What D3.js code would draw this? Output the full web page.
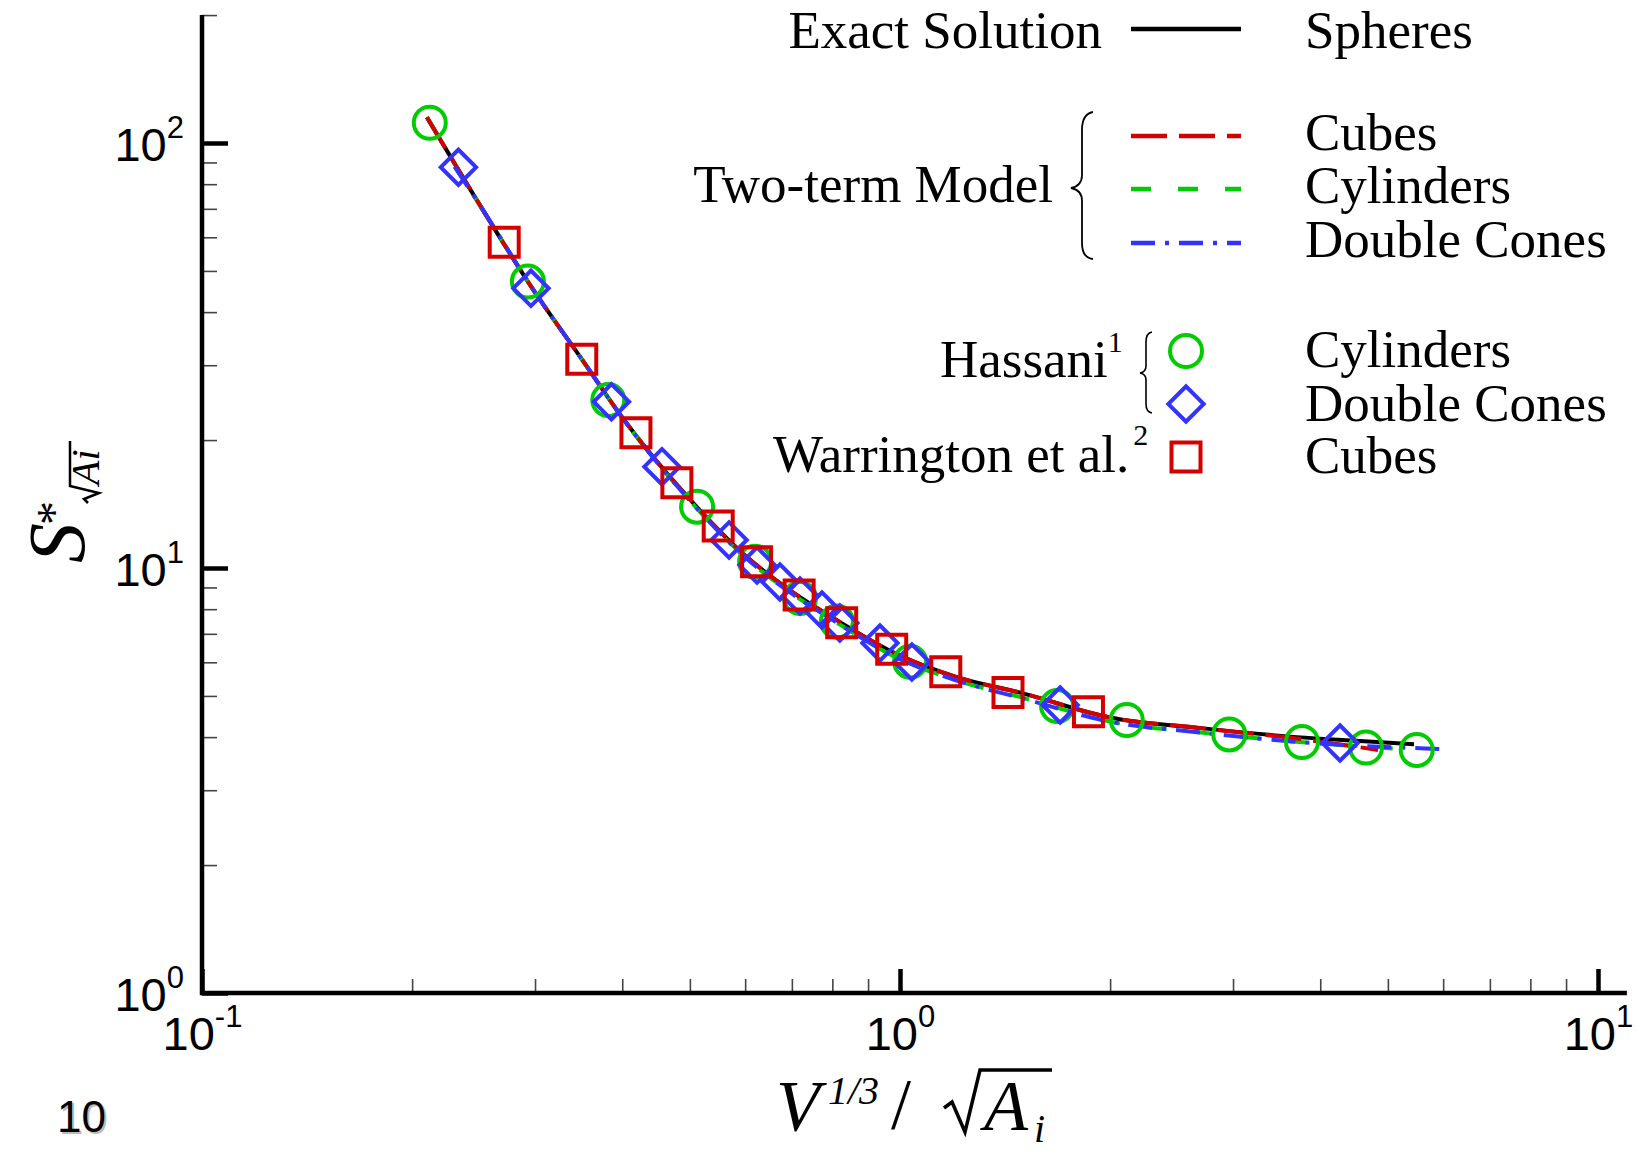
<!DOCTYPE html>
<html>
<head>
<meta charset="utf-8">
<script src="https://cdn.jsdelivr.net/npm/d3@7"></script>
<style>
body{margin:0;background:#fff;}
svg{display:block;}
</style>
</head>
<body>
<svg id="chart" width="1639" height="1152"></svg>
<script>
// tick values
var yMajorTicks = [1, 10, 100];
var yMinorTicks = [2,3,4,5,6,7,8,9,20,30,40,50,60,70,80,90,200];
var xMajorTicks = [0.1, 1, 10];
var xMinorTicks = [0.2,0.3,0.4,0.5,0.6,0.7,0.8,0.9,2,3,4,5,6,7,8,9];
var yTickExp = ["0", "1", "2"];
var xTickExp = ["-1", "0", "1"];

// exact solution, spheres
var exactX = [0.21,0.25,0.3,0.35,0.4,0.5,0.6,0.7,0.8,1.0,1.2,1.5,2.0,2.7,3.7,4.5,5.45];
var exactY = [115,71.5,44.5,31,22.6,14.5,10.7,8.8,7.65,6.22,5.55,5.07,4.45,4.2,4.0,3.92,3.85];
// two-term model
var cubesX = [0.21,0.25,0.3,0.35,0.4,0.5,0.6,0.7,0.8,1.0,1.2,1.5,2.0,2.7,3.7,4.3,4.84];
var cubesY = [115,71.5,44.5,31,22.6,14.5,10.7,8.8,7.65,6.22,5.55,5.07,4.45,4.2,3.97,3.84,3.73];
var cylX = [0.21,0.25,0.3,0.35,0.4,0.5,0.6,0.7,0.8,1.0,1.2,1.5,2.0,2.7,3.7,4.5,5.08];
var cylY = [115,71.5,44.5,31,22.6,14.4,10.6,8.7,7.55,6.1,5.45,4.95,4.35,4.1,3.9,3.81,3.76];
var conesX = [0.23,0.25,0.3,0.35,0.4,0.5,0.6,0.7,0.8,1.0,1.2,1.5,2.0,2.7,3.7,4.5,5.45,6.12];
var conesY = [88,71.5,44.5,31,22.6,14.4,10.6,8.7,7.55,6.1,5.45,4.93,4.35,4.1,3.9,3.82,3.77,3.74];

// Hassani cylinders (circles)
var hasCylX = [0.212,0.293,0.382,0.512,0.620,0.719,0.812,1.034,1.679,2.113,2.963,3.766,4.652,5.499];
var hasCylY = [111.6,47.2,24.85,13.94,10.35,8.50,7.48,6.02,4.735,4.389,4.058,3.896,3.781,3.731];
// Hassani double cones (diamonds)
var hasConX = [0.233,0.296,0.386,0.456,0.569,0.624,0.673,0.719,0.773,0.820,0.936,1.040,1.696,4.270];
var hasConY = [87.7,45.5,24.6,17.31,11.64,10.16,9.27,8.59,7.96,7.42,6.66,6.01,4.76,3.875];
// Warrington cubes (squares)
var warCubX = [0.271,0.350,0.4185,0.479,0.549,0.623,0.717,0.825,0.973,1.163,1.428,1.862];
var warCubY = [58.4,31.0,20.8,15.88,12.56,10.35,8.64,7.43,6.44,5.70,5.095,4.59];

var red = "#d40000", green = "#00cc00", blue = "#3333ff";

var svg = d3.select("#chart");

var x = d3.scaleLog().domain([0.1, 11]).range([202, 202 + 698*Math.log10(110)]);
var y = d3.scaleLog().domain([1, 200]).range([993, 993 - 425*Math.log10(200)]);

// axes
var drawAxes = function()
{
  var gyMin = svg.append("g").attr("transform", "translate(202,0)")
    .call(d3.axisLeft(y).tickValues(yMinorTicks).tickSize(-15).tickFormat(""));
  gyMin.selectAll("line").attr("stroke", "#444").attr("stroke-width", 1.6);
  gyMin.select(".domain").remove();

  var gxMin = svg.append("g").attr("transform", "translate(0,993)")
    .call(d3.axisBottom(x).tickValues(xMinorTicks).tickSize(-14).tickFormat(""));
  gxMin.selectAll("line").attr("stroke", "#444").attr("stroke-width", 1.6);
  gxMin.select(".domain").remove();

  var gy = svg.append("g").attr("transform", "translate(202,0)")
    .call(d3.axisLeft(y).tickValues(yMajorTicks).tickSize(-26).tickFormat(""));
  gy.selectAll("line").attr("stroke", "#000").attr("stroke-width", 4.5);
  gy.select(".domain").remove();
  gy.selectAll(".tick text").remove();
  gy.selectAll(".tick").append("text")
    .attr("x", -18).attr("y", 17.5)
    .attr("text-anchor", "end")
    .attr("font-family", "Liberation Sans, Arial, sans-serif")
    .attr("font-size", 47).attr("fill", "#000")
    .each(function(d, i){
      var t = d3.select(this);
      t.append("tspan").text("10");
      t.append("tspan").attr("font-size", 31).attr("dy", -23.5).text(yTickExp[i]);
    });

  var gx = svg.append("g").attr("transform", "translate(0,993)")
    .call(d3.axisBottom(x).tickValues(xMajorTicks).tickSize(-24).tickFormat(""));
  gx.selectAll("line").attr("stroke", "#000").attr("stroke-width", 4.5);
  gx.select(".domain").remove();
  gx.selectAll(".tick text").remove();
  gx.selectAll(".tick").append("text")
    .attr("x", 0).attr("y", 57)
    .attr("text-anchor", "middle")
    .attr("font-family", "Liberation Sans, Arial, sans-serif")
    .attr("font-size", 47).attr("fill", "#000")
    .each(function(d, i){
      var t = d3.select(this);
      t.append("tspan").text("10");
      t.append("tspan").attr("font-size", 31).attr("dy", -23).text(xTickExp[i]);
    });

  svg.append("line")
    .attr("x1", 202).attr("x2", 202)
    .attr("y1", y(200)).attr("y2", 995)
    .attr("stroke", "#000").attr("stroke-width", 4.5);
  svg.append("line")
    .attr("x1", 200).attr("x2", x(11))
    .attr("y1", 993).attr("y2", 993)
    .attr("stroke", "#000").attr("stroke-width", 4.5);
}

var drawLines = function()
{
  var line = d3.line()
    .x(function(d){return x(d[0]);})
    .y(function(d){return y(d[1]);})
    .curve(d3.curveMonotoneX);

  var series = [
    {xs: exactX, ys: exactY, color: "#000", dash: null},
    {xs: cylX, ys: cylY, color: green, dash: "20,27"},
    {xs: cubesX, ys: cubesY, color: red, dash: "36,12"},
    {xs: conesX, ys: conesY, color: blue, dash: "24,10,4,10"}
  ];
  series.forEach(function(s){
    svg.append("path")
      .datum(d3.zip(s.xs, s.ys))
      .attr("d", line)
      .attr("fill", "none")
      .attr("stroke", s.color)
      .attr("stroke-width", 4)
      .attr("stroke-dasharray", s.dash);
  });
}

var circleSym = d3.symbol().type(d3.symbolCircle).size(Math.PI*16*16);
var squareSym = d3.symbol().type(d3.symbolSquare).size(29*29);
var diamondSym = d3.symbol().type(d3.symbolSquare).size(25*25);

var drawMarkers = function()
{
  svg.selectAll(".cyl")
    .data(d3.zip(hasCylX, hasCylY))
    .enter().append("path")
    .attr("class", "cyl")
    .attr("d", circleSym)
    .attr("transform", function(d){return "translate(" + x(d[0]) + "," + y(d[1]) + ")";})
    .attr("fill", "none").attr("stroke", green).attr("stroke-width", 4);

  svg.selectAll(".con")
    .data(d3.zip(hasConX, hasConY))
    .enter().append("path")
    .attr("class", "con")
    .attr("d", diamondSym)
    .attr("transform", function(d){return "translate(" + x(d[0]) + "," + y(d[1]) + ") rotate(45)";})
    .attr("fill", "none").attr("stroke", blue).attr("stroke-width", 4);

  svg.selectAll(".cub")
    .data(d3.zip(warCubX, warCubY))
    .enter().append("path")
    .attr("class", "cub")
    .attr("d", squareSym)
    .attr("transform", function(d){return "translate(" + x(d[0]) + "," + y(d[1]) + ")";})
    .attr("fill", "none").attr("stroke", red).attr("stroke-width", 4);
}

var serif = "Liberation Serif, Times New Roman, serif";

var addText = function(str, px, py, anchor)
{
  return svg.append("text")
    .attr("x", px).attr("y", py)
    .attr("text-anchor", anchor || "start")
    .attr("font-family", serif)
    .attr("font-size", 53).attr("fill", "#000")
    .text(str);
}

var drawLegend = function()
{
  addText("Exact Solution", 1102, 48, "end");
  addText("Spheres", 1305, 48);
  addText("Two-term Model", 1053, 202, "end");
  addText("Cubes", 1305, 150);
  addText("Cylinders", 1305, 203);
  addText("Double Cones", 1305, 257);
  var h = addText("Hassani", 940, 377);
  h.append("tspan").attr("font-size", 30).attr("dy", -25).text("1");
  addText("Cylinders", 1305, 367);
  addText("Double Cones", 1305, 421);
  var w = addText("Warrington et al.", 773, 472);
  w.append("tspan").attr("font-size", 30).attr("dx", 4).attr("dy", -27).text("2");
  addText("Cubes", 1305, 473);

  var samples = [
    {yy: 29, color: "#000", dash: null},
    {yy: 136, color: red, dash: "36,12"},
    {yy: 189, color: green, dash: "20,27"},
    {yy: 243, color: blue, dash: "24,10,4,10"}
  ];
  samples.forEach(function(s){
    svg.append("line")
      .attr("x1", 1131).attr("x2", 1241)
      .attr("y1", s.yy).attr("y2", s.yy)
      .attr("stroke", s.color).attr("stroke-width", 4.5)
      .attr("stroke-dasharray", s.dash);
  });

  svg.append("path").attr("d", circleSym).attr("transform", "translate(1186,351)")
    .attr("fill", "none").attr("stroke", green).attr("stroke-width", 4);
  svg.append("path").attr("d", diamondSym).attr("transform", "translate(1186,404) rotate(45)")
    .attr("fill", "none").attr("stroke", blue).attr("stroke-width", 4);
  svg.append("path").attr("d", squareSym).attr("transform", "translate(1186,457)")
    .attr("fill", "none").attr("stroke", red).attr("stroke-width", 4);

  // braces
  svg.append("path")
    .attr("d", "M1093,112 Q1082,114 1082,130 L1082,175 Q1082,186 1071,188 Q1082,190 1082,201 L1082,243 Q1082,258 1093,259")
    .attr("fill", "none").attr("stroke", "#000").attr("stroke-width", 1.8);
  svg.append("path")
    .attr("d", "M1152,332 Q1146,333 1146,342 L1146,366 Q1146,372 1140,373 Q1146,374 1146,380 L1146,404 Q1146,412 1152,413")
    .attr("fill", "none").attr("stroke", "#000").attr("stroke-width", 1.6);
}

var drawTitles = function()
{
  // x title: V^(1/3) / sqrt(A_i)
  var xt = svg.append("g");
  xt.append("text").attr("x", 776).attr("y", 1130)
    .attr("font-family", serif).attr("font-style", "italic").attr("font-size", 72)
    .text("V");
  xt.append("text").attr("x", 828).attr("y", 1104)
    .attr("font-family", serif).attr("font-style", "italic").attr("font-size", 40)
    .text("1/3");
  xt.append("text").attr("x", 891).attr("y", 1128)
    .attr("font-family", serif).attr("font-size", 72)
    .text("/");
  xt.append("path")
    .attr("d", "M944,1108 L952,1102 L965,1132 L980,1070 L1052,1070")
    .attr("fill", "none").attr("stroke", "#000").attr("stroke-width", 3.5);
  xt.append("text").attr("x", 984).attr("y", 1130)
    .attr("font-family", serif).attr("font-style", "italic").attr("font-size", 72)
    .text("A");
  xt.append("text").attr("x", 1034).attr("y", 1142)
    .attr("font-family", serif).attr("font-style", "italic").attr("font-size", 40)
    .text("i");

  // y title: S*_(sqrt(Ai))
  var yt = svg.append("g").attr("transform", "translate(84,563) rotate(-90)");
  yt.append("text").attr("x", 0).attr("y", 0)
    .attr("font-family", serif).attr("font-style", "italic").attr("font-size", 80)
    .text("S");
  yt.append("text").attr("x", 38).attr("y", -14)
    .attr("font-family", serif).attr("font-size", 48)
    .text("*");
  yt.append("path")
    .attr("d", "M60,4 L64,0 L70,15 L77,-14 L122,-14")
    .attr("fill", "none").attr("stroke", "#000").attr("stroke-width", 2.5);
  yt.append("text").attr("x", 78).attr("y", 15)
    .attr("font-family", serif).attr("font-style", "italic").attr("font-size", 40)
    .text("Ai");

  // page number
  svg.append("text").attr("x", 59).attr("y", 1134)
    .attr("font-family", "Liberation Sans, Arial, sans-serif").attr("font-size", 44)
    .attr("fill", "#bbb").text("10");
  svg.append("text").attr("x", 57).attr("y", 1132)
    .attr("font-family", "Liberation Sans, Arial, sans-serif").attr("font-size", 44)
    .attr("fill", "#000").text("10");
}

drawAxes();
drawLines();
drawMarkers();
drawLegend();
drawTitles();
</script>
</body>
</html>
